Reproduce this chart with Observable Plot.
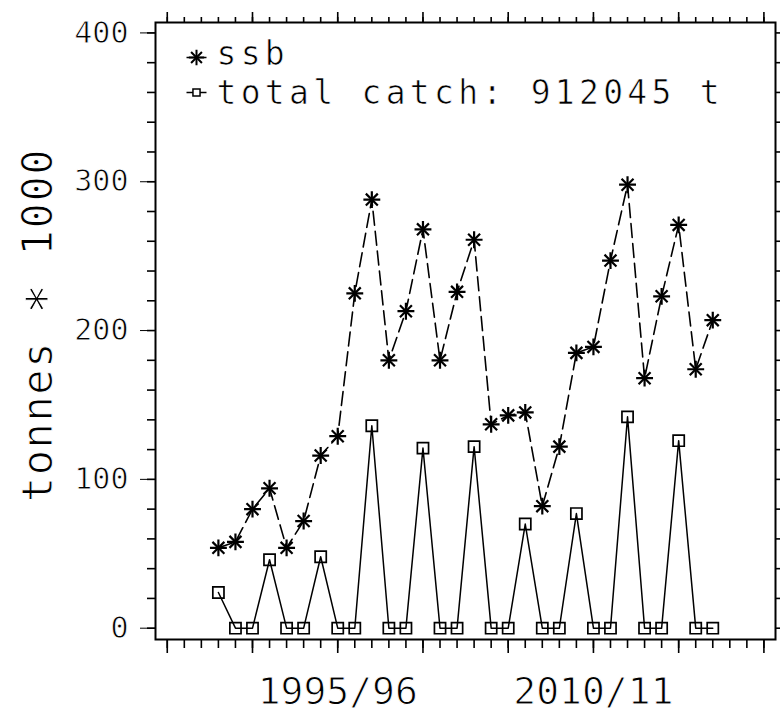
<!DOCTYPE html>
<html>
<head>
<meta charset="utf-8">
<script src="https://cdn.jsdelivr.net/npm/d3@7"></script>
<script src="https://cdn.jsdelivr.net/npm/@observablehq/plot@0.6"></script>
<style>
  html, body { margin: 0; padding: 0; background: #fff; }
  #chart svg { display: block; }
  #chart svg text { stroke: #fff; stroke-width: 1px; paint-order: fill; }
</style>
</head>
<body>
<div id="chart"></div>
<script>
// ---- data ----
const seasons = [
  "1988/89","1989/90","1990/91","1991/92","1992/93","1993/94","1994/95","1995/96",
  "1996/97","1997/98","1998/99","1999/00","2000/01","2001/02","2002/03","2003/04",
  "2004/05","2005/06","2006/07","2007/08","2008/09","2009/10","2010/11","2011/12",
  "2012/13","2013/14","2014/15","2015/16","2016/17","2017/18"
];
const ssb = [54,58,80,94,54,72,116,129,225,288,180,213,268,180,226,261,137,143,145,82,122,185,189,247,298,168,223,271,174,207];
const totalCatch = [24,0,0,46,0,0,48,0,0,136,0,0,121,0,0,122,0,0,70,0,0,77,0,0,142,0,0,126,0,0];
const xLabels = ["1995/96", "2010/11"];
const yTicks = [0, 100, 200, 300, 400];
const yLabel = "tonnes * 1000";
const legendSsb = "ssb";
const legendCatch = "total catch: 912045 t";

// ---- derived tables ----
const startYear = s => +s.slice(0, 4);
const rows = seasons.map((s, i) => ({year: startYear(s), season: s, ssb: ssb[i], catch: totalCatch[i]}));
const labelYears = xLabels.map(startYear);
const firstTick = 1985, lastTick = 2020;
const minorYears = d3.range(firstTick, lastTick + 1);
const majorYears = minorYears.filter(y => y % 5 === 0);
const yMinor = d3.range(0, 401, 20);
const seasonOf = y => xLabels.find(d => startYear(d) === y) || "";

const hline = { draw(ctx, size) { const r = Math.sqrt(size / Math.PI); ctx.moveTo(-r, 0); ctx.lineTo(r, 0); } };
const FONT = "'DejaVu Sans Mono', monospace";
const noText = () => "";

const chart = Plot.plot({
  width: 780,
  height: 713,
  marginLeft: 155,
  marginRight: 5,
  marginTop: 22,
  marginBottom: 74,
  style: {fontFamily: FONT, background: "#fff", color: "#000", overflow: "visible"},
  x: {type: "linear", domain: [1984.31, 2020.68]},
  y: {type: "linear", domain: [-7.6, 407]},
  marks: [
    // bottom axis
    Plot.axisX({anchor: "bottom", ticks: minorYears, tickSize: 9, tickFormat: noText, label: null, strokeWidth: 1.6}),
    Plot.axisX({anchor: "bottom", ticks: majorYears, tickSize: 14, tickFormat: noText, label: null, strokeWidth: 1.6}),
    Plot.axisX({anchor: "bottom", ticks: labelYears, tickSize: 0, tickPadding: 38, tickFormat: seasonOf, label: null, fontSize: 38}),
    // top axis
    Plot.axisX({anchor: "top", ticks: minorYears, tickSize: 6, tickFormat: noText, label: null, strokeWidth: 1.6}),
    Plot.axisX({anchor: "top", ticks: majorYears, tickSize: 11, tickFormat: noText, label: null, strokeWidth: 1.6}),
    // left axis
    Plot.axisY({anchor: "left", ticks: yMinor, tickSize: 8, tickFormat: noText, label: null, strokeWidth: 1.6}),
    Plot.axisY({anchor: "left", ticks: yTicks, tickSize: 15, tickPadding: 12, label: null, fontSize: 30}),
    // right axis
    Plot.axisY({anchor: "right", ticks: yMinor, tickSize: 5, tickFormat: noText, label: null, strokeWidth: 1.6}),
    // y label
    Plot.text([yLabel], {text: d => d, frameAnchor: "left", dx: -117, dy: -6, rotate: -90, fontSize: 42, textAnchor: "middle", lineAnchor: "middle"}),
    Plot.frame({stroke: "#000", strokeWidth: 2}),
    // series
    Plot.line(rows, {x: "year", y: "ssb", stroke: "#000", strokeWidth: 1.6, strokeDasharray: "14,6"}),
    Plot.dot(rows, {x: "year", y: "ssb", symbol: "plus", r: 5.5, stroke: "#000", strokeWidth: 2.2}),
    Plot.dot(rows, {x: "year", y: "ssb", symbol: "times", r: 5.5, stroke: "#000", strokeWidth: 2.2}),
    Plot.line(rows, {x: "year", y: "catch", stroke: "#000", strokeWidth: 1.5}),
    Plot.dot(rows, {x: "year", y: "catch", symbol: "square", r: 6.3, stroke: "#000", strokeWidth: 1.7, fill: "none"}),
    // legend
    Plot.dot([legendSsb], {frameAnchor: "top-left", dx: 41, dy: 35, symbol: hline, r: 10, stroke: "#000", strokeWidth: 1.5}),
    Plot.dot([legendSsb], {frameAnchor: "top-left", dx: 41, dy: 35, symbol: "plus", r: 5, stroke: "#000", strokeWidth: 2}),
    Plot.dot([legendSsb], {frameAnchor: "top-left", dx: 41, dy: 35, symbol: "times", r: 5, stroke: "#000", strokeWidth: 2}),
    Plot.text([legendSsb], {text: d => d, frameAnchor: "top-left", dx: 61, dy: 32, textAnchor: "start", lineAnchor: "middle", fontSize: 33}),
    Plot.dot([legendCatch], {frameAnchor: "top-left", dx: 41, dy: 70, symbol: hline, r: 10, stroke: "#000", strokeWidth: 1.5}),
    Plot.dot([legendCatch], {frameAnchor: "top-left", dx: 41, dy: 70, symbol: "square", r: 4, stroke: "#000", strokeWidth: 1.5, fill: "#fff"}),
    Plot.text([legendCatch], {text: d => d, frameAnchor: "top-left", dx: 61, dy: 71, textAnchor: "start", lineAnchor: "middle", fontSize: 33})
  ]
});
// typographic tweaks to imitate the wide plotter lettering
d3.select(chart).selectAll("text").each(function() {
  const t = this.textContent, s = d3.select(this);
  if (t === legendSsb || t === legendCatch) s.attr("letter-spacing", 4.3).style("stroke-width", "0.7px");
  else if (t === yLabel) {
    const [a, b] = t.split("*");
    s.attr("letter-spacing", 1.6).text(null);
    s.append("tspan").text(a);
    s.append("tspan").attr("dy", 10).style("font-size", "50px").text("*");
    s.append("tspan").attr("dy", -10).text(b);
  }
  else if (yTicks.map(String).includes(t)) s.style("stroke-width", "0.8px");
});
document.getElementById("chart").appendChild(chart);
</script>
</body>
</html>
